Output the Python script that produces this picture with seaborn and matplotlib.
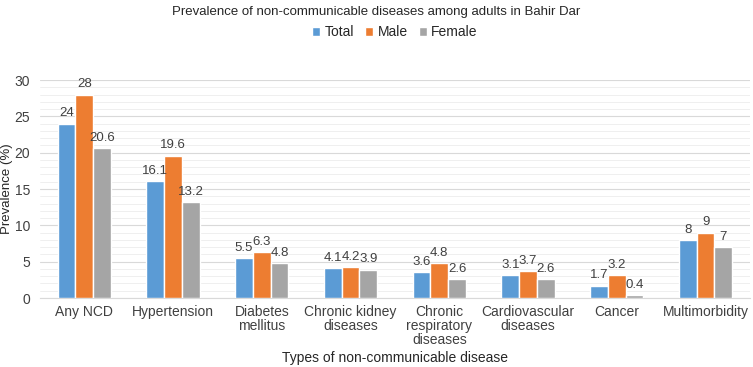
import pandas as pd
import matplotlib.pyplot as plt
import seaborn as sns
from matplotlib.ticker import MultipleLocator

# --- Data ---
CATEGORIES = ['Any NCD', 'Hypertension', 'Diabetes\nmellitus', 'Chronic kidney\ndiseases',
              'Chronic\nrespiratory\ndiseases', 'Cardiovascular\ndiseases', 'Cancer', 'Multimorbidity']
TOTAL = [24, 16.1, 5.5, 4.1, 3.6, 3.1, 1.7, 8]
MALE = [28, 19.6, 6.3, 4.2, 4.8, 3.7, 3.2, 9]
FEMALE = [20.6, 13.2, 4.8, 3.9, 2.6, 2.6, 0.4, 7]
GROUPS = ['Total', 'Male', 'Female']
COLORS = ['#5B9BD5', '#ED7D31', '#A5A5A5']

df = pd.DataFrame({'Disease': CATEGORIES, 'Total': TOTAL, 'Male': MALE, 'Female': FEMALE})
long_df = df.melt(id_vars='Disease', var_name='Group', value_name='Prevalence')

sns.set_style('white')
plt.rcParams['font.family'] = ['Liberation Sans', 'DejaVu Sans']

fig = plt.figure(figsize=(7.53, 3.67), dpi=100)
ax = fig.add_axes([0.053, 0.188, 0.943, 0.594])

sns.barplot(data=long_df, x='Disease', y='Prevalence', hue='Group', hue_order=GROUPS,
            palette=COLORS, width=0.6, saturation=1, ax=ax, zorder=3)

for container in ax.containers:
    labels = [f'{v:g}' for v in container.datavalues]
    ax.bar_label(container, labels=labels, padding=3, fontsize=9.5, color='#404040')

ax.set_ylim(0, 30)
ax.yaxis.set_major_locator(MultipleLocator(5))
ax.yaxis.set_minor_locator(MultipleLocator(1))
ax.grid(True, which='major', axis='y', color='#D9D9D9', linewidth=0.8, zorder=0)
ax.grid(True, which='minor', axis='y', color='#EDEDED', linewidth=0.6, zorder=0)
ax.set_axisbelow(True)
for s in ['top', 'right', 'left']:
    ax.spines[s].set_visible(False)
ax.spines['bottom'].set_color('#D9D9D9')

ax.tick_params(axis='both', which='both', length=0, labelsize=10, colors='#404040')
ax.tick_params(axis='x', pad=5)
ax.tick_params(axis='y', pad=7)
for lbl in ax.get_xticklabels():
    lbl.set_linespacing(1.0)
ax.set_xlabel('Types of non-communicable disease', fontsize=10, color='#262626')
ax.set_ylabel('Prevalence (%)', fontsize=9.5, color='#262626')
ax.xaxis.set_label_coords(0.5, -0.245)
ax.yaxis.set_label_coords(-0.038, 0.5)
ax.set_xlim(-0.5, len(CATEGORIES) - 0.5)

ax.legend(loc='center', bbox_to_anchor=(0.5, 1.22), ncol=3, frameon=False,
          fontsize=10, handlelength=0.6, handleheight=0.6, handletextpad=0.3,
          columnspacing=0.8)
fig.suptitle('Prevalence of non-communicable diseases among adults in Bahir Dar',
             y=0.985, fontsize=9.5, color='#262626')

fig.savefig('out.png', dpi=100)
